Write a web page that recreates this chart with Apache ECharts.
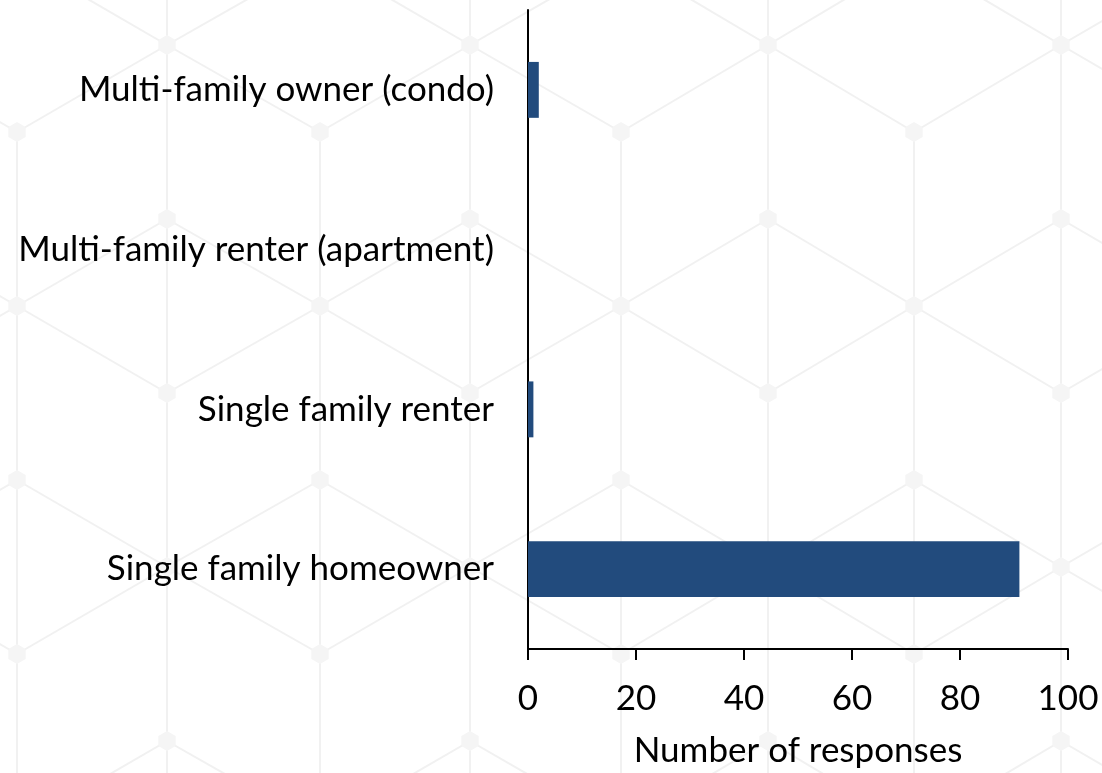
<!DOCTYPE html>
<html>

<head>
    <meta charset="utf-8">
    <script src="https://cdn.jsdelivr.net/npm/echarts@6/dist/echarts.min.js"></script>
    <style>
        html, body { margin: 0; padding: 0; background: #fff; }
        #main { width: 1102px; height: 773px; }
    </style>
</head>

<body>
    <div id="main"></div>
    <script type="text/javascript">
        // housing categories, bottom to top
        var categories = [
            'Single family homeowner',
            'Single family renter',
            'Multi-family renter (apartment)',
            'Multi-family owner (condo)'
        ];
        var responses = [91, 1, 0, 2];
        var xTicks = [0, 20, 40, 60, 80, 100];

        var fontFam = 'Lato, Open Sans, sans-serif';

        // faint hexagon watermark behind the chart (decoration only)
        var bgCols = [-132, 17, 167, 320, 470, 621, 768, 914, 1061, 1210];
        var bgColor = '#f1f1f1';
        function rowY(h) { return 45 + 87 * h; }
        function buildBackground() {
            var els = [];
            var i, h;
            for (i = 0; i < bgCols.length; i++) {
                var evenType = (i % 2 === 0);
                els.push({
                    type: 'line', silent: true, z: -10,
                    shape: { x1: bgCols[i], y1: evenType ? 0 : rowY(1), x2: bgCols[i], y2: 773 },
                    style: { stroke: bgColor, lineWidth: 2 }
                });
            }
            for (i = 0; i < bgCols.length - 1; i++) {
                for (h = -2; h <= 9; h++) {
                    var m = ((h % 6) + 6) % 6;
                    if (m === 1 || m === 4) continue;
                    // column whose vertex sits on half-row h
                    var leftHasH = ((i % 2 === 0) === (Math.abs(h) % 2 === 0));
                    var xa = leftHasH ? bgCols[i] : bgCols[i + 1];
                    var xb = leftHasH ? bgCols[i + 1] : bgCols[i];
                    els.push({
                        type: 'line', silent: true, z: -10,
                        shape: { x1: xa, y1: rowY(h), x2: xb, y2: rowY(h + 1) },
                        style: { stroke: bgColor, lineWidth: 2 }
                    });
                }
            }
            for (i = 0; i < bgCols.length; i++) {
                for (h = -2; h <= 9; h++) {
                    if ((i % 2 === 0) !== (Math.abs(h) % 2 === 0)) continue;
                    var pts = [];
                    for (var k = 0; k < 6; k++) {
                        var a = Math.PI / 6 + k * Math.PI / 3;
                        pts.push([bgCols[i] + 10 * Math.cos(a), rowY(h) + 10 * Math.sin(a)]);
                    }
                    els.push({
                        type: 'polygon', silent: true, z: -9,
                        shape: { points: pts },
                        style: { fill: '#f5f5f5' }
                    });
                }
            }
            return els;
        }

        var myChart = echarts.init(document.getElementById('main'));

        myChart.setOption({
            animation: false,
            backgroundColor: '#fff',
            graphic: { elements: buildBackground() },
            grid: { left: 528, right: 34, top: 10, bottom: 120 },
            xAxis: {
                type: 'value',
                min: xTicks[0],
                max: xTicks[xTicks.length - 1],
                interval: xTicks[1] - xTicks[0],
                name: 'Number of responses',
                nameLocation: 'middle',
                nameGap: 84,
                nameTextStyle: { fontFamily: fontFam, fontSize: 35, color: '#000' },
                axisLine: { show: true, lineStyle: { color: '#000', width: 2 } },
                axisTick: { show: true, length: 11, lineStyle: { color: '#000', width: 2 } },
                axisLabel: { fontFamily: fontFam, fontSize: 35, color: '#000', margin: 32 },
                splitLine: { show: false }
            },
            yAxis: {
                type: 'category',
                data: categories,
                axisLine: { show: true, lineStyle: { color: '#000', width: 2 } },
                axisTick: { show: false },
                axisLabel: { fontFamily: fontFam, fontSize: 35, color: '#000', margin: 34 }
            },
            series: [{
                type: 'bar',
                data: responses,
                barCategoryGap: '65%',
                itemStyle: { color: '#224b7d' }
            }]
        });
    </script>
</body>

</html>
